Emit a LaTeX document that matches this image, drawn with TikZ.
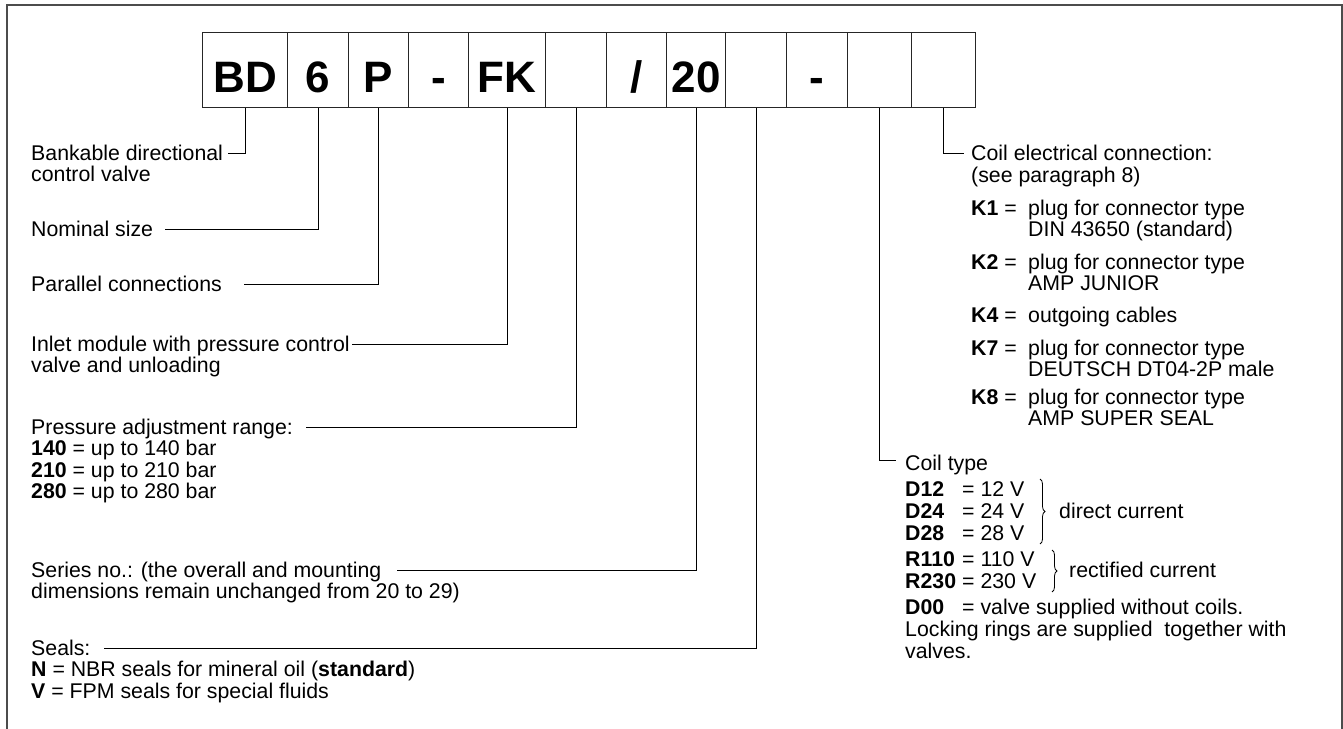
\documentclass[tikz,border=0pt]{standalone}
\usepackage{fontspec}
\setmainfont{Liberation Sans}
\usetikzlibrary{decorations.pathreplacing}
\tikzset{
  frameline/.style={line width=2pt, draw=black!70},
  codebox/.style={draw=black!85, line width=1.3pt, minimum height=75pt, inner sep=0pt,
    anchor=north west, text height=45pt, text depth=0pt,
    font=\fontsize{44}{44}\selectfont\bfseries},
  lbl/.style={anchor=base west, inner sep=0pt, font=\fontsize{21.3}{23}\selectfont},
  leader/.style={line width=1pt, draw=black},
  brc/.style={decorate, decoration={brace, amplitude=5pt}, line width=0.8pt}
}
\begin{document}
\begin{tikzpicture}[x=1pt,y=-1pt]
\useasboundingbox (0,0) rectangle (1343,728);
% frame
\draw[frameline] (7,732) -- (7,5) -- (1341.5,5) -- (1341.5,732);
% code boxes
\node[codebox, minimum width=85pt] (b1) at (202,32) {BD};
\node[codebox, minimum width=61pt] (b2) at (287,32) {6};
\node[codebox, minimum width=60pt] (b3) at (348,32) {P};
\node[codebox, minimum width=60pt] (b4) at (408,32) {-};
\node[codebox, minimum width=77pt] (b5) at (468,32) {FK};
\node[codebox, minimum width=61pt] (b6) at (545,32) {};
\node[codebox, minimum width=60pt] (b7) at (606,32) {/};
\node[codebox, minimum width=59pt] (b8) at (666,32) {20};
\node[codebox, minimum width=61pt] (b9) at (725,32) {};
\node[codebox, minimum width=61pt] (b10) at (786,32) {-};
\node[codebox, minimum width=64pt] (b11) at (847,32) {};
\node[codebox, minimum width=64pt] (b12) at (911,32) {};
% left labels
\node[lbl] (t1) at (31,160) {Bankable directional};
\node[lbl] (t1b) at (31,181.5) {control valve};
\node[lbl] (t2) at (31,236) {Nominal size};
\node[lbl] (t3) at (31,291) {Parallel connections};
\node[lbl] (t4) at (31,351) {Inlet module with pressure control};
\node[lbl] (t4b) at (31,372.5) {valve and unloading};
\node[lbl] (t5) at (31,434) {Pressure adjustment range:};
\node[lbl] (t5b) at (31,455.5) {\textbf{140} = up to 140 bar};
\node[lbl] (t5c) at (31,477) {\textbf{210} = up to 210 bar};
\node[lbl] (t5d) at (31,498.5) {\textbf{280} = up to 280 bar};
\node[lbl] (t6) at (31,577) {Series no.: (the overall and mounting};
\node[lbl] (t6b) at (31,598.5) {dimensions remain unchanged from 20 to 29)};
\node[lbl] (t7) at (31,655) {Seals:};
\node[lbl] (t7b) at (31,676.5) {\textbf{N} = NBR seals for mineral oil (\textbf{standard})};
\node[lbl] (t7c) at (31,698) {\textbf{V} = FPM seals for special fluids};
% right labels: coil electrical connection
\node[lbl] (r1) at (971,160) {Coil electrical connection:};
\node[lbl] (r1b) at (971,182) {(see paragraph 8)};
\node[lbl] (k1) at (971,215) {\textbf{K1} =};
\node[lbl] (k1a) at (1028,215) {plug for connector type};
\node[lbl] (k1b) at (1028,236.5) {DIN 43650 (standard)};
\node[lbl] (k2) at (971,269) {\textbf{K2} =};
\node[lbl] (k2a) at (1028,269) {plug for connector type};
\node[lbl] (k2b) at (1028,290.5) {AMP JUNIOR};
\node[lbl] (k4) at (971,322) {\textbf{K4} =};
\node[lbl] (k4a) at (1028,322) {outgoing cables};
\node[lbl] (k7) at (971,355) {\textbf{K7} =};
\node[lbl] (k7a) at (1028,355) {plug for connector type};
\node[lbl] (k7b) at (1028,376.5) {DEUTSCH DT04-2P male};
\node[lbl] (k8) at (971,404) {\textbf{K8} =};
\node[lbl] (k8a) at (1028,404) {plug for connector type};
\node[lbl] (k8b) at (1028,425.5) {AMP SUPER SEAL};
% coil type
\node[lbl] (c1) at (905,470) {Coil type};
\node[lbl] (d12) at (905,496) {\textbf{D12}};
\node[lbl] (d12v) at (962,496) {= 12 V};
\node[lbl] (d24) at (905,518) {\textbf{D24}};
\node[lbl] (d24v) at (962,518) {= 24 V};
\node[lbl] (d28) at (905,540) {\textbf{D28}};
\node[lbl] (d28v) at (962,540) {= 28 V};
\node[lbl] (r110) at (905,566) {\textbf{R110}};
\node[lbl] (r110v) at (962,566) {= 110 V};
\node[lbl] (r230) at (905,588) {\textbf{R230}};
\node[lbl] (r230v) at (962,588) {= 230 V};
\node[lbl] (d00) at (905,614) {\textbf{D00}};
\node[lbl] (d00v) at (962,614) {= valve supplied without coils.};
\node[lbl] (lk) at (905,636) {Locking rings are supplied~ together with};
\node[lbl] (lk2) at (905,658) {valves.};
\draw[brc] (1040,479) -- (1040,544);
\draw[brc] (1052,550) -- (1052,592);
\node[lbl] (dc) at (1059,518) {direct current};
\node[lbl] (rc) at (1069,577) {rectified current};
% leaders
\draw[leader] (b1.south) |- ([xshift=5pt,yshift=7pt]t1.base east);
\draw[leader] (b2.south) |- ([xshift=12pt,yshift=7pt]t2.base east);
\draw[leader] (b3.south) |- ([xshift=22pt,yshift=7pt]t3.base east);
\draw[leader] (b5.south) |- ([xshift=2pt,yshift=7pt]t4.base east);
\draw[leader] (b6.south) |- ([xshift=13pt,yshift=7pt]t5.base east);
\draw[leader] (b8.south) |- ([xshift=16pt,yshift=7pt]t6.base east);
\draw[leader] (b9.south) |- ([xshift=13pt,yshift=7pt]t7.base east);
\draw[leader] (b11.south) |- ([xshift=-9pt,yshift=10pt]c1.base west);
\draw[leader] (b12.south) |- ([xshift=-7pt,yshift=7pt]r1.base west);
\end{tikzpicture}
\end{document}
